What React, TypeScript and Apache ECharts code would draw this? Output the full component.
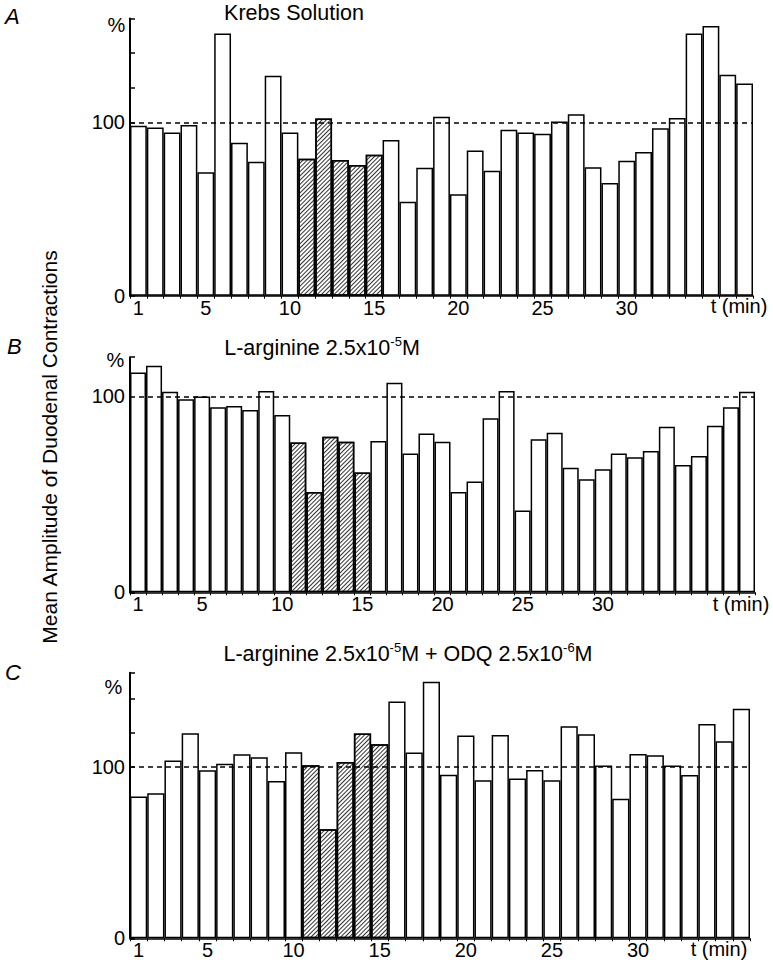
import React, { useEffect, useRef } from 'react';
import * as echarts from 'echarts';

// Panel A: Krebs solution (% of control), minutes 1..37
const krebsValues = [98.1, 97.1, 94.2, 98.5, 71.3, 151.3, 88.3, 77.3, 126.9, 94.2, 79.0, 102.3, 78.3, 75.4, 81.3, 89.8, 54.2, 73.8, 103.3, 58.5, 83.8, 72.1, 95.8, 94.2, 93.5, 100.6, 104.8, 74.2, 65.0, 77.9, 82.9, 96.7, 102.5, 151.3, 155.6, 127.5, 122.5];
// Panel B: L-arginine 2.5x10-5 M, minutes 1..39
const arginineValues = [112.2, 115.6, 102.4, 98.5, 100, 94.4, 95.1, 93.0, 102.7, 90.5, 76.5, 51.2, 79.4, 76.9, 61.1, 77.2, 107.0, 70.9, 81.0, 76.9, 51.2, 56.5, 88.8, 102.7, 41.7, 78.1, 81.5, 63.6, 57.7, 62.8, 70.9, 68.9, 72.1, 84.5, 65.0, 69.6, 85.0, 94.4, 102.4];
// Panel C: L-arginine + ODQ, minutes 1..36
const arginineOdqValues = [82.8, 84.6, 103.7, 119.7, 98.0, 101.9, 107.4, 105.7, 91.8, 108.6, 101.0, 63.7, 102.9, 119.5, 113.3, 138.2, 108.5, 149.7, 95.5, 118.3, 92.2, 118.7, 93.2, 98.2, 92.2, 123.8, 119.1, 100.8, 81.5, 107.6, 106.8, 100.8, 95.3, 125.1, 115.0, 133.9];

const treatmentMinutes = [11, 12, 13, 14, 15];
const labelledMinutes = [1, 5, 10, 15, 20, 25, 30];
const labelledPercents = [0, 100];
const referenceLevel = 100;
const yMaxima = [160, 120, 155];
const panelLetters = ['A', 'B', 'C'];
const yAxisTitle = 'Mean Amplitude of Duodenal Contractions';
const timeLabel = 't (min)';

const FONT = '"Liberation Sans", Arial, Helvetica, sans-serif';

export default function App() {
  const ref = useRef<HTMLDivElement>(null);

  useEffect(() => {
    const chart = echarts.init(ref.current as HTMLDivElement, null, { renderer: 'svg' });

    const panels = [
      { values: krebsValues, grid: { left: 130, top: 18.5, width: 623, height: 277.2 } },
      { values: arginineValues, grid: { left: 130, top: 357.2, width: 625, height: 235.1 } },
      { values: arginineOdqValues, grid: { left: 130, top: 672.7, width: 620, height: 265.6 } },
    ];

    const hatch = {
      symbol: 'rect',
      symbolSize: 1,
      color: '#333',
      backgroundColor: '#ffffff',
      dashArrayX: [1, 0],
      dashArrayY: [1, 2],
      rotation: -Math.PI / 4,
    };

    const grids = panels.map((p) => p.grid);
    const xAxes = panels.map((p, i) => ({
      type: 'category',
      gridIndex: i,
      data: p.values.map((_, k) => String(k + 1)),
      boundaryGap: true,
      axisLine: { show: true, lineStyle: { color: '#000', width: 1.5 } },
      axisTick: { show: true, interval: 0, length: 3, lineStyle: { color: '#000', width: 1 } },
      axisLabel: {
        interval: (_idx: number, val: string) => labelledMinutes.includes(Number(val)),
        color: '#000',
        fontSize: 20,
        fontFamily: FONT,
        margin: 2,
      },
      splitLine: { show: false },
    }));
    const yAxes = panels.map((_, i) => ({
      type: 'value',
      gridIndex: i,
      min: 0,
      max: yMaxima[i],
      interval: 20,
      axisLine: { show: true, lineStyle: { color: '#000', width: 2 } },
      axisTick: { show: true, inside: true, length: 5, lineStyle: { color: '#000', width: 1.5 } },
      axisLabel: {
        formatter: (v: number) => (labelledPercents.includes(v) ? String(v) : ''),
        color: '#000',
        fontSize: 20,
        fontFamily: FONT,
        margin: 5,
      },
      splitLine: { show: false },
    }));
    const series = panels.map((p, i) => ({
      type: 'bar',
      xAxisIndex: i,
      yAxisIndex: i,
      barCategoryGap: '0%',
      data: p.values.map((v, k) =>
        treatmentMinutes.includes(k + 1)
          ? { value: v, itemStyle: { color: '#ffffff', decal: hatch } }
          : { value: v }
      ),
      itemStyle: { color: '#ffffff', borderColor: '#000', borderWidth: 1.5 },
      markLine: {
        silent: true,
        symbol: 'none',
        label: { show: false },
        lineStyle: { color: '#000', type: [5, 4], width: 1.5 },
        data: [{ yAxis: referenceLevel }],
      },
    }));

    const text = (x: number, y: number, t: string, size: number, extra: any = {}) => ({
      type: 'text',
      x,
      y,
      rotation: extra.rotation || 0,
      style: {
        text: t,
        fill: '#000',
        font: `${extra.italic ? 'italic ' : ''}${size}px ${FONT}`,
        fontSize: size,
        fontFamily: FONT,
        fontStyle: extra.italic ? 'italic' : 'normal',
        align: extra.align || 'center',
        textAlign: extra.align || 'center',
        verticalAlign: 'middle',
        textVerticalAlign: 'middle',
        rich: extra.rich,
      },
    });

    const rich = {
      n: { fontSize: 21.5, fontFamily: FONT, fill: '#000', color: '#000', lineHeight: 24, verticalAlign: 'bottom' },
      s: { fontSize: 13, fontFamily: FONT, fill: '#000', color: '#000', lineHeight: 24, verticalAlign: 'top', padding: [0, 0, 0, 0] },
    };

    const graphic = [
      text(5, 16, panelLetters[0], 22, { align: 'left', italic: true }),
      text(7, 346.5, panelLetters[1], 22, { align: 'left', italic: true }),
      text(5, 672.5, panelLetters[2], 22, { align: 'left', italic: true }),
      text(294, 12.5, 'Krebs Solution', 21.5),
      text(322, 347, '{n|L-arginine 2.5x10}{s|-5}{n|M}', 21.5, { rich }),
      text(408, 653, '{n|L-arginine 2.5x10}{s|-5}{n|M + ODQ 2.5x10}{s|-6}{n|M}', 21.5, { rich }),
      text(116.5, 24.5, '%', 20),
      text(115.5, 360, '%', 20),
      text(113.5, 686.5, '%', 20),
      text(739, 306, timeLabel, 20),
      text(741, 604, timeLabel, 20),
      text(719, 949, timeLabel, 20),
      text(49, 447, yAxisTitle, 21, { rotation: Math.PI / 2 }),
    ];

    chart.setOption({
      animation: false,
      backgroundColor: '#ffffff',
      grid: grids,
      xAxis: xAxes,
      yAxis: yAxes,
      series,
      graphic,
    } as any);

    return () => chart.dispose();
  }, []);

  return <div ref={ref} style={{ position: 'absolute', left: 0, top: 0, width: 773, height: 966 }} />;
}
